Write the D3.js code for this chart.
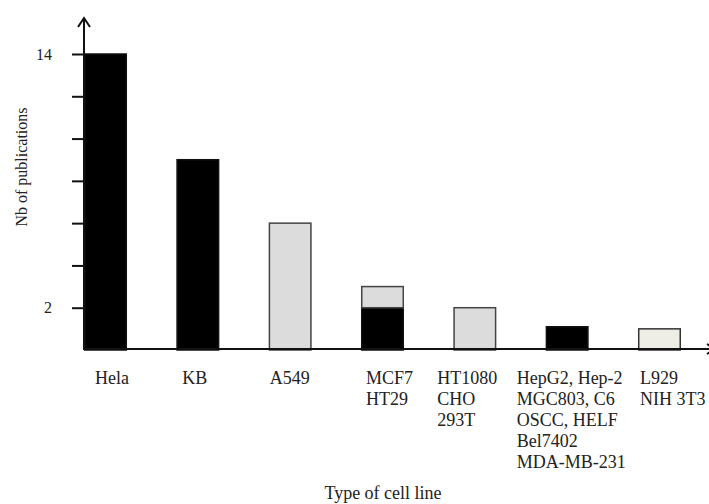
<!DOCTYPE html>
<html><head><meta charset="utf-8">
<script src="https://cdn.jsdelivr.net/npm/d3@7"></script>
<style>body{margin:0;background:#fff}svg{display:block}text{font-family:"Liberation Serif","Times New Roman",serif;fill:#222}</style>
</head><body>
<svg id="c" width="709" height="504"></svg>
<script>
const categories = ["Hela","KB","A549","MCF7/HT29","HT1080/CHO/293T","HepG2 group","L929/NIH 3T3"];
const labelLines = [["Hela"],["KB"],["A549"],["MCF7","HT29"],["HT1080","CHO","293T"],["HepG2, Hep-2","MGC803, C6","OSCC, HELF","Bel7402","MDA-MB-231"],["L929","NIH 3T3"]];
const blackValues = [14, 9, 0, 2, 0, 1.1, 0];
const greyValues  = [0, 0, 6, 1, 2, 0, 0];
const creamValues = [0, 0, 0, 0, 0, 0, 1];
const tickValues = [2, 4, 6, 8, 10, 12, 14];
const tickLabels = {2: "2", 14: "14"};
const labelNudge = [11, 6, 1, 5, -16, -29, 2];

const svg = d3.select("#c");
const x = d3.scaleBand().domain(categories).range([84, 681]).paddingInner(0.534).paddingOuter(0).align(0);
const y = d3.scaleLinear().domain([0, 14]).range([350, 54]);

const seriesDefs = [
  {vals: blackValues, fill: "#000", stroke: "#111"},
  {vals: greyValues, fill: "#dcdcdc", stroke: "#444"},
  {vals: creamValues, fill: "#efeee6", stroke: "#333"}
];
const base = categories.map(() => 0);
seriesDefs.forEach(s => {
  const rows = categories.map((c, i) => ({c, v0: base[i], v1: base[i] + s.vals[i]}));
  rows.forEach((r, i) => base[i] = r.v1);
  svg.append("g").selectAll("rect").data(rows.filter(r => r.v1 > r.v0)).join("rect")
    .attr("x", d => x(d.c) + 0.75).attr("width", x.bandwidth() - 1.5)
    .attr("y", d => y(d.v1)).attr("height", d => y(d.v0) - y(d.v1))
    .attr("fill", s.fill).attr("stroke", s.stroke).attr("stroke-width", 1.5);
});

// y axis
const yAxis = d3.axisLeft(y).tickValues(tickValues).tickSize(12).tickPadding(20)
  .tickFormat(d => tickLabels[d] || "");
const ga = svg.append("g").attr("transform", "translate(84,0)").call(yAxis);
ga.select(".domain").remove();
ga.selectAll(".tick line").attr("stroke", "#111").attr("stroke-width", 2);
ga.selectAll(".tick text").attr("font-size", 16).attr("font-family", "Liberation Serif").attr("fill", "#333");

const x0 = 84, yb = 349, yTop = 18, xEnd = 715;
svg.append("line").attr("x1", x0).attr("x2", x0).attr("y1", yb + 1).attr("y2", yTop).attr("stroke", "#111").attr("stroke-width", 2);
svg.append("path").attr("d", `M${x0-6},${yTop+9}L${x0},${yTop}L${x0+6},${yTop+9}`).attr("fill", "none").attr("stroke", "#111").attr("stroke-width", 2);
svg.append("line").attr("x1", x0 - 1).attr("x2", xEnd).attr("y1", yb).attr("y2", yb).attr("stroke", "#111").attr("stroke-width", 2);
svg.append("path").attr("d", `M${xEnd-8},${yb-5}L${xEnd},${yb}L${xEnd-8},${yb+5}`).attr("fill", "none").attr("stroke", "#111").attr("stroke-width", 2);

// category labels
const lg = svg.append("g");
categories.forEach((c, i) => {
  const t = lg.append("text").attr("font-size", 18).attr("x", x(c) + labelNudge[i]).attr("y", 384);
  labelLines[i].forEach((ln, j) => {
    t.append("tspan").attr("x", x(c) + labelNudge[i]).attr("dy", j === 0 ? 0 : 21).text(ln);
  });
});

svg.append("text").attr("x", 383).attr("y", 499).attr("text-anchor", "middle").attr("font-size", 18).text("Type of cell line");
svg.append("text").attr("transform", "translate(27,167) rotate(-90)").attr("text-anchor", "middle").attr("font-size", 16).text("Nb of publications");
</script>
</body></html>
